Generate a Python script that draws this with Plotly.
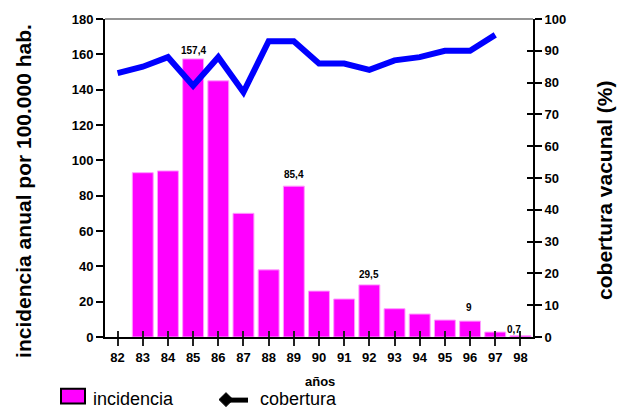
import plotly.graph_objects as go

# Years (x categories), incidence per 100.000 inhabitants and vaccine coverage (%)
years = ["82", "83", "84", "85", "86", "87", "88", "89", "90",
         "91", "92", "93", "94", "95", "96", "97", "98"]
incidencia = [None, 93.0, 94.0, 157.4, 145.0, 70.0, 38.0, 85.4, 26.0,
              21.5, 29.5, 16.0, 13.0, 9.6, 9.0, 2.8, 0.7]
cobertura = [83, 85, 88, 79, 88, 77, 93, 93, 86,
             86, 84, 87, 88, 90, 90, 95, None]

# Bars that carry a printed value
labelled_years = ["85", "89", "92", "96", "98"]
labelled_text = ["157,4", "85,4", "29,5", "9", "0,7"]

# label offsets (pixels) above each labelled bar
label_dy = [8, 12, 10, 14, 6]
label_dx = [0, 0, 0, -1, -6]

FONT = "Liberation Sans, Arial, sans-serif"
W, H = 627, 409
L, R, T, B = 105, 94, 17, 72
PW, PH = W - L - R, H - T - B


def px_x(px):
    return (px - L) / PW


def px_y(py):
    return (H - B - py) / PH


fig = go.Figure()

fig.add_trace(go.Bar(
    x=years, y=incidencia, name="incidencia",
    marker=dict(color="#ff00ff", line=dict(color="#ff9cff", width=1)),
    width=0.83, showlegend=False, yaxis="y",
))

fig.add_trace(go.Scatter(
    x=years, y=cobertura, name="cobertura", mode="lines",
    line=dict(color="#0000ff", width=6), yaxis="y2",
    showlegend=False, connectgaps=False,
))

tickfont = dict(family=FONT, size=13, color="black", weight="bold")

annotations = []
for yr, txt, dy, dx in zip(labelled_years, labelled_text, label_dy, label_dx):
    idx = years.index(yr)
    annotations.append(dict(
        x=idx, y=incidencia[idx], xref="x", yref="y", text=txt,
        showarrow=False, yanchor="middle", xanchor="center",
        yshift=dy, xshift=dx,
        font=dict(family=FONT, size=10, color="black", weight="bold"),
    ))

# axis titles
annotations += [
    dict(x=px_x(24), y=px_y(190), xref="paper", yref="paper",
         text="incidencia anual por 100.000 hab.", textangle=-90,
         showarrow=False, xanchor="center", yanchor="middle",
         font=dict(family=FONT, size=21, color="black", weight="bold")),
    dict(x=px_x(605), y=px_y(190), xref="paper", yref="paper",
         text="cobertura vacunal (%)", textangle=-90,
         showarrow=False, xanchor="center", yanchor="middle",
         font=dict(family=FONT, size=21, color="black", weight="bold")),
    dict(x=px_x(320), y=px_y(382), xref="paper", yref="paper",
         text="años", showarrow=False, xanchor="center", yanchor="middle",
         font=dict(family=FONT, size=13, color="black", weight="bold")),
    # legend texts
    dict(x=px_x(91), y=px_y(399), xref="paper", yref="paper",
         text="incidencia", showarrow=False, xanchor="left", yanchor="middle",
         font=dict(family=FONT, size=18, color="black")),
    dict(x=px_x(258), y=px_y(399), xref="paper", yref="paper",
         text="cobertura", showarrow=False, xanchor="left", yanchor="middle",
         font=dict(family=FONT, size=18, color="black")),
]

shapes = [
    # top frame line
    dict(type="line", xref="paper", yref="paper", x0=0, x1=1, y0=1, y1=1,
         line=dict(color="#707070", width=1.5)),
    # legend: incidencia swatch
    dict(type="rect", xref="paper", yref="paper",
         x0=px_x(61), x1=px_x(85), y0=px_y(404), y1=px_y(389),
         fillcolor="#ff00ff", line=dict(color="black", width=2)),
    # legend: cobertura symbol (diamond + thick stroke)
    dict(type="path", xref="paper", yref="paper",
         path="M {a},{b} L {c},{d} L {e},{b} L {c},{f} Z".format(
             a=px_x(219), b=px_y(400), c=px_x(226), d=px_y(393),
             e=px_x(233), f=px_y(407)),
         fillcolor="black", line=dict(color="black", width=1)),
    dict(type="rect", xref="paper", yref="paper",
         x0=px_x(228), x1=px_x(248), y0=px_y(403), y1=px_y(398),
         fillcolor="black", line=dict(color="black", width=0)),
]

fig.update_layout(
    width=W, height=H,
    margin=dict(l=L, r=R, t=T, b=B, pad=0),
    paper_bgcolor="white", plot_bgcolor="white",
    showlegend=False,
    xaxis=dict(
        type="category", categoryorder="array", categoryarray=years,
        range=[-0.5, 16.5], showgrid=False, zeroline=False,
        showline=True, linecolor="black", linewidth=2,
        ticks="outside", ticklen=7, tickwidth=1.5, tickcolor="#222",
        tickfont=tickfont,
    ),
    # companion axis so the x ticks cross the baseline
    xaxis2=dict(
        overlaying="x", anchor="y", side="bottom", type="linear",
        range=[-0.5, 16.5], tickvals=list(range(len(years))),
        ticks="inside", ticklen=6, tickwidth=1.5, tickcolor="#222",
        showticklabels=False, showgrid=False, zeroline=False, showline=False,
    ),
    yaxis=dict(
        range=[0, 180], dtick=20, showgrid=False, zeroline=False,
        showline=True, linecolor="black", linewidth=2,
        ticks="outside", ticklen=7, tickwidth=1.5, tickcolor="black",
        tickfont=tickfont,
    ),
    yaxis2=dict(
        overlaying="y", side="right", anchor="x",
        range=[0, 100], dtick=10, showgrid=False, zeroline=False,
        showline=True, linecolor="black", linewidth=2,
        ticks="outside", ticklen=7, tickwidth=1.5, tickcolor="black",
        tickfont=tickfont,
    ),
    # companion axis so the right-hand ticks cross the axis line
    yaxis3=dict(
        overlaying="y", side="right", anchor="x",
        range=[0, 100], dtick=10, showgrid=False, zeroline=False,
        showline=False, showticklabels=False,
        ticks="inside", ticklen=6, tickwidth=1.5, tickcolor="black",
    ),
    annotations=annotations,
    shapes=shapes,
)

# invisible helper traces so the companion axes get drawn
fig.add_trace(go.Scatter(x=[None], y=[None], xaxis="x2", yaxis="y",
                         showlegend=False, hoverinfo="skip"))
fig.add_trace(go.Scatter(x=[None], y=[None], xaxis="x", yaxis="y3",
                         showlegend=False, hoverinfo="skip"))

fig.write_html("out.html")
